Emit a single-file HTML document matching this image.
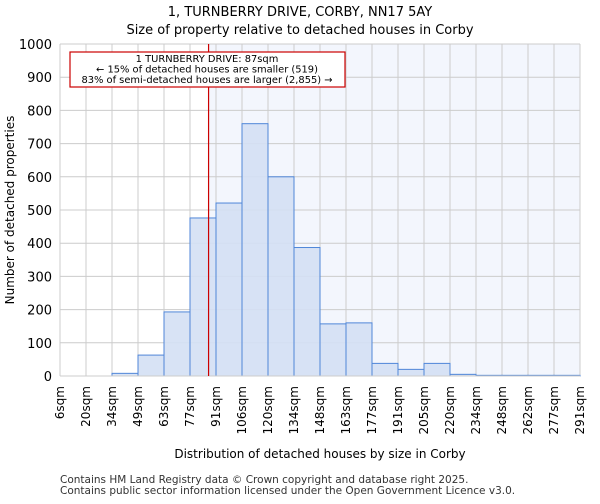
<!DOCTYPE html>
<html><head><meta charset="utf-8"><style>
body{margin:0;background:#fff;font-family:"DejaVu Sans","Liberation Sans",sans-serif}
</style></head><body>
<svg id="chart" width="600" height="500" xmlns="http://www.w3.org/2000/svg" font-family="DejaVu Sans, Liberation Sans, sans-serif">
<text x="300" y="16" text-anchor="middle" font-size="13">1, TURNBERRY DRIVE, CORBY, NN17 5AY</text>
<text x="300" y="34" text-anchor="middle" font-size="13">Size of property relative to detached houses in Corby</text>
<g id="plot"></g>
<text transform="translate(14,210) rotate(-90)" text-anchor="middle" font-size="12">Number of detached properties</text>
<text x="320" y="458" text-anchor="middle" font-size="12">Distribution of detached houses by size in Corby</text>
<text x="60" y="483" font-size="10.5" fill="#333">Contains HM Land Registry data © Crown copyright and database right 2025.</text>
<text x="60" y="494" font-size="10.5" fill="#333">Contains public sector information licensed under the Open Government Licence v3.0.</text>
</svg>
<script>
const binLabels=["6sqm","20sqm","34sqm","49sqm","63sqm","77sqm","91sqm","106sqm","120sqm","134sqm","148sqm","163sqm","177sqm","191sqm","205sqm","220sqm","234sqm","248sqm","262sqm","277sqm","291sqm"];
const binEdges=[6,20,34,49,63,77,91,106,120,134,148,163,177,191,205,220,234,248,262,277,291];
const counts=[0,0,8,63,193,476,521,760,600,387,157,160,38,20,38,5,2,2,2,2];
const yTicks=[0,100,200,300,400,500,600,700,800,900,1000];
const propertySize=87;
const L=60,R=580,T=44,B=376,YMAX=1000;
const n=counts.length;
function xi(i){return L+(R-L)*i/n;}
function xv(v){let i=0;while(i<binEdges.length-2&&v>binEdges[i+1])i++;return xi(i)+(v-binEdges[i])/(binEdges[i+1]-binEdges[i])*(xi(i+1)-xi(i));}
function y(v){return B-(B-T)*v/YMAX;}
const g=document.getElementById('plot');const NS="http://www.w3.org/2000/svg";
function el(t,a){const e=document.createElementNS(NS,t);for(const k in a)e.setAttribute(k,a[k]);g.appendChild(e);return e;}
const px=xv(propertySize);
let bg=el('rect',{x:px,y:T,width:R-px,height:B-T,fill:'#f3f6fd'});


yTicks.forEach(t=>{let l=el('line',{x1:L,x2:R,y1:y(t),y2:y(t),stroke:'#cccccc'});


let tx=el('text',{x:L-8,y:y(t)+5,'text-anchor':'end','font-size':13});tx.textContent=t;

});
binLabels.forEach((s,i)=>{let l=el('line',{x1:xi(i),x2:xi(i),y1:T,y2:B,stroke:'#cccccc'});


let tx=el('text',{transform:`translate(${xi(i)+4},${B+10}) rotate(-90)`,'text-anchor':'end','font-size':12});tx.textContent=s;

});
counts.forEach((c,i)=>{let r=el('rect',{x:xi(i),y:y(c),width:xi(i+1)-xi(i),height:B-y(c),fill:'#d4e0f4','fill-opacity':0.9,stroke:'#4f86d8','stroke-width':1});

});
let ax=el('line',{x1:L,x2:R,y1:B,y2:B,stroke:'#cccccc'});


let ml=el('line',{x1:px,x2:px,y1:T,y2:B,stroke:'#cc0000','stroke-width':1.2});


let box=el('rect',{x:70,y:52,width:275,height:35,fill:'#fff',stroke:'#cc0000','stroke-width':1.2});


["1 TURNBERRY DRIVE: 87sqm","← 15% of detached houses are smaller (519)","83% of semi-detached houses are larger (2,855) →"].forEach((s,i)=>{let t=el('text',{x:207,y:62+i*10.5,'text-anchor':'middle','font-size':9.9});t.textContent=s;

});
</script>
</body></html>
